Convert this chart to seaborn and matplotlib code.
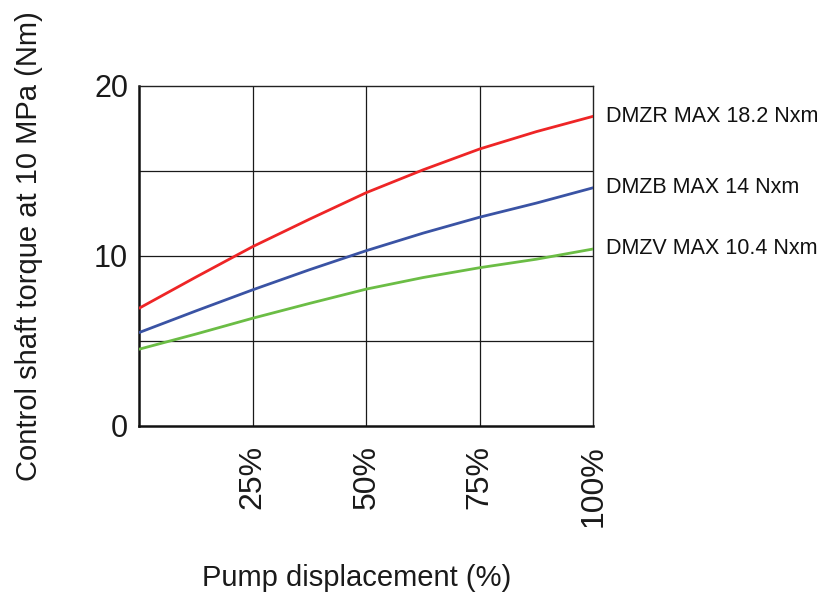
import matplotlib
matplotlib.use("Agg")
import matplotlib.pyplot as plt
import pandas as pd
import seaborn as sns

# Pump displacement (%) and control shaft torque (Nm) at 10 MPa
displacement = [0, 12.5, 25, 37.5, 50, 62.5, 75, 87.5, 100]
torque_dmzr = [6.92, 8.75, 10.54, 12.15, 13.71, 15.05, 16.28, 17.3, 18.2]
torque_dmzb = [5.49, 6.76, 8.0, 9.18, 10.3, 11.33, 12.27, 13.1, 14.0]
torque_dmzv = [4.51, 5.4, 6.33, 7.2, 8.04, 8.72, 9.3, 9.8, 10.4]

series_names = ["DMZR", "DMZB", "DMZV"]
series_labels = ["DMZR MAX 18.2 Nxm", "DMZB MAX 14 Nxm", "DMZV MAX 10.4 Nxm"]
series_colors = ["#ee2526", "#3a53a4", "#6bbd45"]

x_ticks = [25, 50, 75, 100]
x_tick_labels = ["25%", "50%", "75%", "100%"]
y_ticks = [0, 10, 20]

sns.set_theme(style="white")
plt.rcParams["font.family"] = ["Liberation Sans", "DejaVu Sans"]

df = pd.DataFrame({
    "displacement": displacement * 3,
    "torque": torque_dmzr + torque_dmzb + torque_dmzv,
    "series": [n for n in series_names for _ in displacement],
})

fig = plt.figure(figsize=(8.24, 5.99), dpi=100)
ax = fig.add_axes([0.169, 0.289, 0.551, 0.568])

sns.lineplot(data=df, x="displacement", y="torque", hue="series",
             palette=dict(zip(series_names, series_colors)),
             linewidth=2.0, legend=False, ax=ax, zorder=3)

ax.set_xlim(0, 100)
ax.set_ylim(0, 20)

# grid lines
for gx in [25, 50, 75]:
    ax.axvline(gx, color="#1a1a1a", lw=0.9, zorder=1)
for gy in [5, 10, 15]:
    ax.axhline(gy, color="#1a1a1a", lw=0.9, zorder=1)

ax.set_xticks(x_ticks)
ax.set_xticklabels(x_tick_labels, rotation=90, fontsize=23, color="#1a1a1a")
ax.set_yticks(y_ticks)
ax.set_yticklabels([str(v) for v in y_ticks], fontsize=22, color="#1a1a1a")
ax.tick_params(axis="x", length=0, pad=14)
ax.tick_params(axis="y", length=0, pad=8)

for side in ["left", "bottom"]:
    ax.spines[side].set_linewidth(1.8)
    ax.spines[side].set_color("#111111")
for side in ["top", "right"]:
    ax.spines[side].set_linewidth(1.0)
    ax.spines[side].set_color("#222222")

ax.set_xlabel("")
ax.set_ylabel("")

# end-of-curve labels
ends = [torque_dmzr[-1], torque_dmzb[-1], torque_dmzv[-1]]
for label, yv in zip(series_labels, ends):
    ax.annotate(label, xy=(100, yv), xytext=(9, 0), textcoords="offset points",
                ha="left", va="center", fontsize=15.5, color="#111111",
                annotation_clip=False)

fig.text(357 / 824, 1 - 578 / 599, "Pump displacement (%)", ha="center", va="center",
         fontsize=21, color="#1a1a1a")
fig.text(29 / 824, 1 - 246 / 599, "Control shaft torque at 10 MPa (Nm)", ha="center",
         va="center", rotation=90, fontsize=21, color="#1a1a1a")

fig.savefig("out.png", dpi=100)
